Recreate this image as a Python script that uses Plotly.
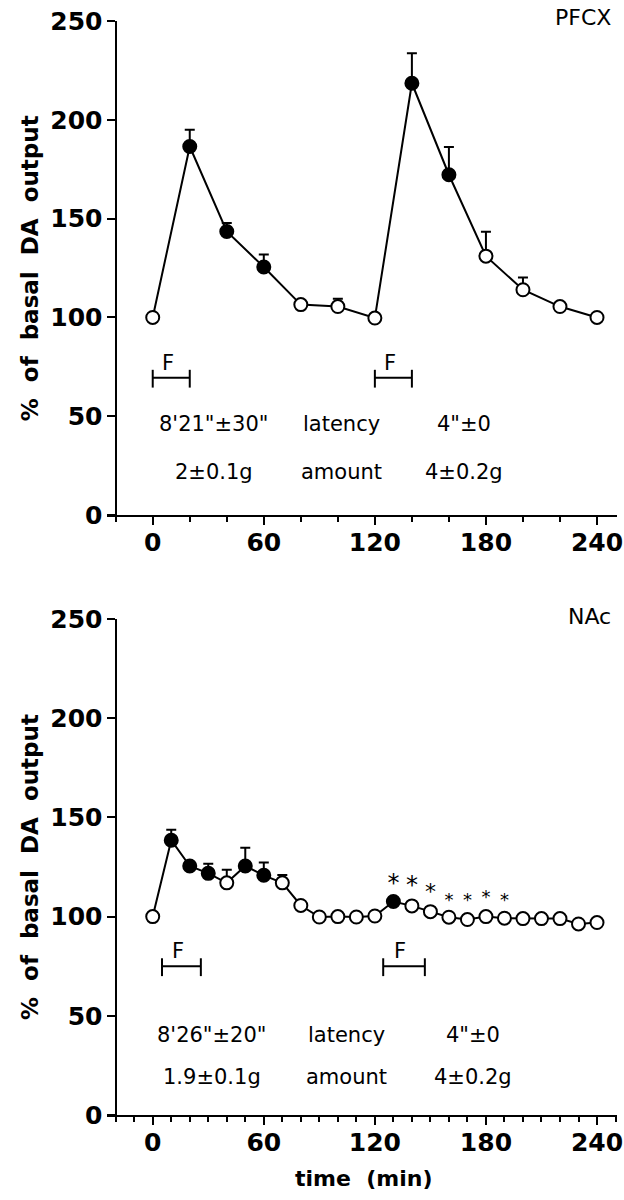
import plotly.graph_objects as go
from plotly.subplots import make_subplots

# ---------------- PFCX (top) ----------------
pf_time = [0, 20, 40, 60, 80, 100, 120, 140, 160, 180, 200, 220, 240]
pf_value = [100, 186.5, 143.5, 125.5, 106.5, 105.5, 99.7, 218.5, 172.2, 131, 114, 105.5, 100]
pf_err = [0, 8.5, 4.3, 6.4, 0, 4, 0, 15.2, 14.1, 12.3, 6.2, 0, 0]
pf_filled = [False, True, True, True, False, False, False, True, True, False, False, False, False]

# ---------------- NAc (bottom) ----------------
na_time = [0, 10, 20, 30, 40, 50, 60, 70, 80, 90, 100, 110, 120,
           130, 140, 150, 160, 170, 180, 190, 200, 210, 220, 230, 240]
na_value = [100, 138.5, 125.5, 121.8, 117, 125.5, 120.8, 117, 105.6, 99.8, 100, 99.8, 100.3,
            107.6, 105.4, 102.5, 99.7, 98.5, 100, 99.2, 99, 99, 99, 96.3, 97]
na_err = [0, 5.3, 0, 4.8, 6.6, 9.2, 6.4, 4, 0, 0, 0, 0, 0,
          0, 0, 0, 0, 0, 0, 0, 0, 0, 0, 0, 0]
na_filled = [False, True, True, True, False, True, True, False, False, False, False, False, False,
             True, False, False, False, False, False, False, False, False, False, False, False]

# significance stars (NAc)
star_time = [130, 140, 150, 160, 170, 180, 190]
star_y = [116, 115, 111.5, 107.5, 107.5, 109, 107.5]
star_size = [24, 24, 22, 18, 18, 18, 18]

# food bars "F"
pf_food = [(0, 20), (120, 140)]
na_food = [(5, 26), (124.5, 147)]

# latency / amount text
pf_rows = [["8'21\"±30\"", "latency", "4\"±0"], ["2±0.1g", "amount", "4±0.2g"]]
na_rows = [["8'26\"±20\"", "latency", "4\"±0"], ["1.9±0.1g", "amount", "4±0.2g"]]

fig = make_subplots(rows=2, cols=1)

TICKFONT = dict(family="DejaVu Sans", size=25, color="black", weight="bold")
TXTFONT = dict(family="DejaVu Sans", size=21, color="black")
NB = "\u00a0\u00a0"


def add_panel(row, t, v, e, filled):
    fig.add_trace(go.Scatter(x=t, y=v, mode="lines", line=dict(color="black", width=2),
                             showlegend=False, hoverinfo="skip"), row=row, col=1)
    for fill in (False, True):
        idx = [i for i in range(len(t)) if filled[i] == fill]
        fig.add_trace(go.Scatter(
            x=[t[i] for i in idx], y=[v[i] for i in idx], mode="markers",
            marker=dict(size=13, symbol="circle",
                        color="black" if fill else "white",
                        line=dict(color="black", width=2)),
            error_y=dict(type="data", symmetric=False,
                         array=[e[i] for i in idx], arrayminus=[0] * len(idx),
                         color="black", thickness=2, width=5),
            showlegend=False), row=row, col=1)


add_panel(1, pf_time, pf_value, pf_err, pf_filled)
add_panel(2, na_time, na_value, na_err, na_filled)

fig.add_trace(go.Scatter(x=star_time, y=star_y, mode="text", text=["*"] * len(star_time),
                         textfont=dict(family="DejaVu Sans", size=star_size,
                                       color=["black"] * len(star_time)),
                         showlegend=False), row=2, col=1)


def add_food(row, bars, y):
    xr = "x" if row == 1 else "x2"
    yr = "y" if row == 1 else "y2"
    for a, b in bars:
        fig.add_shape(type="line", x0=a, x1=b, y0=y, y1=y, xref=xr, yref=yr,
                      line=dict(color="black", width=2))
        for xx in (a, b):
            fig.add_shape(type="line", x0=xx, x1=xx, y0=y - 5, y1=y + 4, xref=xr, yref=yr,
                          line=dict(color="black", width=2))
        fig.add_annotation(x=a + (b - a) * 0.4, y=y + 0.5, xref=xr, yref=yr, text="F",
                           showarrow=False, yanchor="bottom", font=TXTFONT)


add_food(1, pf_food, 69.5)
add_food(2, na_food, 75)


def add_rows(row, rows, xs, ys):
    xr = "x" if row == 1 else "x2"
    yr = "y" if row == 1 else "y2"
    for r, yy in zip(rows, ys):
        for txt, xx in zip(r, xs):
            fig.add_annotation(x=xx, y=yy, xref=xr, yref=yr, text=txt, showarrow=False,
                               xanchor="center", font=TXTFONT)


add_rows(1, pf_rows, [33, 102, 168], [46, 22])
add_rows(2, na_rows, [32, 104.5, 173], [40.5, 19])

xr = [-24.7, 250.8]
for row, dom, minor in ((1, [0.5484, 1.0], 20), (2, [0.0, 0.4534], 10)):
    fig.update_xaxes(row=row, col=1, range=xr, domain=[0, 1], showline=True, linecolor="black",
                     linewidth=2, ticks="outside", ticklen=8, tickwidth=2, tickcolor="black",
                     tickvals=[0, 60, 120, 180, 240], tickfont=TICKFONT, showgrid=False,
                     zeroline=False, automargin=False, ticklabeloverflow="allow",
                     ticklabelstandoff=-4,
                     minor=dict(dtick=minor, tick0=0, ticks="outside", ticklen=5,
                                tickwidth=2, tickcolor="black", showgrid=False))
    fig.update_yaxes(row=row, col=1, range=[0, 250], domain=dom, anchor="free",
                     position=0.0186, showline=True, linecolor="black", linewidth=2,
                     ticks="outside", ticklen=8, tickwidth=2, tickcolor="black",
                     tickvals=[0, 50, 100, 150, 200, 250], tickfont=TICKFONT,
                     showgrid=False, zeroline=False, automargin=False,
                     ticklabeloverflow="allow")

ytitle = NB.join(["%", "of", "basal", "DA", "output"])
for yc in (0.774, 0.2267):
    fig.add_annotation(x=-0.151, y=yc, xref="paper", yref="paper", text=ytitle,
                       textangle=-90, showarrow=False, xanchor="center", yanchor="middle",
                       font=dict(family="DejaVu Sans", size=23, color="black", weight="bold"))

fig.add_annotation(x=0.502, y=-0.058, xref="paper", yref="paper", text="time" + NB + "(min)",
                   showarrow=False, xanchor="center", yanchor="middle",
                   font=dict(family="DejaVu Sans", size=22, color="black", weight="bold"))
fig.add_annotation(x=0.992, y=1.003, xref="paper", yref="paper", text="PFCX", showarrow=False,
                   xanchor="right", yanchor="middle",
                   font=dict(family="DejaVu Sans", size=22, color="black"))
fig.add_annotation(x=0.992, y=0.4553, xref="paper", yref="paper", text="NAc", showarrow=False,
                   xanchor="right", yanchor="middle",
                   font=dict(family="DejaVu Sans", size=22, color="black"))

fig.update_layout(width=624, height=1200, margin=dict(l=107, r=7, t=21, b=85),
                  plot_bgcolor="white", paper_bgcolor="white", showlegend=False)

# drop the default page margin so the figure fills the window without scrollbars
fig.write_html("out.html", config={"displayModeBar": False},
               post_script="document.body.style.margin='0';document.body.style.overflow='hidden';")
